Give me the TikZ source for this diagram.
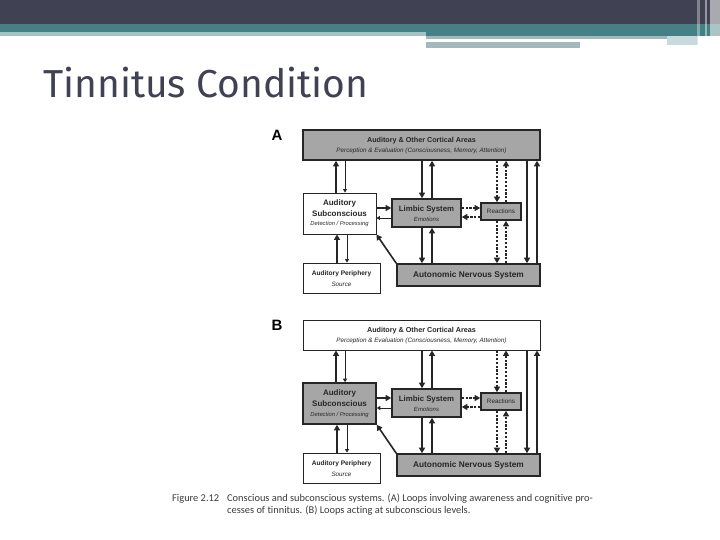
\documentclass[tikz,border=0pt]{standalone}
\usepackage{fontspec}
\setmainfont{Liberation Sans}
\newfontfamily\titlefont{Fira Sans}
\newfontfamily\capfont[Ligatures=NoCommon]{Carlito}
\usetikzlibrary{arrows.meta}
\definecolor{hdark}{HTML}{404254}
\definecolor{hteal}{HTML}{458084}
\definecolor{hlight}{HTML}{A5C2C5}
\definecolor{hgray}{HTML}{A3B8BA}
\definecolor{boxgray}{HTML}{A6A6A6}
\definecolor{ink}{HTML}{262626}
\begin{document}
\begin{tikzpicture}[x=1pt,y=-1pt,
  gbox/.style={draw=ink, line width=1.6pt, fill=boxgray, rectangle, inner sep=0pt},
  wbox/.style={draw=ink, line width=0.9pt, fill=white, rectangle, inner sep=0pt},
  lbl/.style={inner sep=0pt, text=ink},
  arr/.style={draw=ink, line width=1.6pt, -{Triangle[length=5.5pt,width=6pt]}},
  tarr/.style={draw=ink, line width=0.8pt, -{Triangle[length=3.5pt,width=4pt]}},
  darr/.style={arr, dash pattern=on 2.2pt off 1.6pt}
]
\useasboundingbox (0,0) rectangle (720,540);
\fill[white] (0,0) rectangle (720,540);
% header
\fill[hdark] (0,0) rectangle (720,24);
\fill[hteal] (0,24) rectangle (720,32);
\fill[hlight] (0,32) rectangle (426,36);
\fill[hteal] (426,32) rectangle (720,36);
\fill[hgray] (426,36) rectangle (667,39);
\fill[hgray] (426,42) rectangle (580,48);
\fill[hlight!60] (667,36) rectangle (698,45);
\fill[white,opacity=0.35] (697,0) rectangle (700,45);
\fill[white,opacity=0.45] (705,0) rectangle (707,49);
\fill[white,opacity=0.55] (710,0) rectangle (720,45);
% title
\node[anchor=base west, inner sep=0pt, text=hdark, font=\titlefont\fontsize{39}{42}\selectfont] (title) at (43,98) {Tinnitus Condition};
% columns
\coordinate (c1) at (336,0);
\coordinate (c2) at (345,0);
\coordinate (c3) at (422,0);
\coordinate (c4) at (432,0);
\coordinate (c5) at (497,0);
\coordinate (c6) at (506,0);
\coordinate (c7) at (527,0);
\coordinate (c8) at (537,0);
\coordinate (c9) at (337,0);
\coordinate (c10) at (347,0);
\foreach \p/\o/\tf/\af in {A/0/gbox/wbox, B/190/wbox/gbox}{
  \node[anchor=center, inner sep=0pt, font=\bfseries\fontsize{15}{15}\selectfont] (lab\p) at (277,{135+\o}) {\p};
  \node[\tf, minimum width=237pt, minimum height=30pt] (top\p) at (421.5,{145+\o}) {};
  \node[\af, minimum width=73pt, minimum height=41pt] (as\p) at (339.5,{213.5+\o}) {};
  \node[gbox, minimum width=69pt, minimum height=28pt] (lim\p) at (426.5,{213+\o}) {};
  \node[gbox, minimum width=40pt, minimum height=17pt] (rea\p) at (501,{211.5+\o}) {};
  \node[wbox, minimum width=77pt, minimum height=30pt] (per\p) at (341.5,{278+\o}) {};
  \node[gbox, minimum width=143pt, minimum height=22pt] (ans\p) at (468.5,{275+\o}) {};
  % texts
  \node[lbl, font=\bfseries\fontsize{7.2}{8}\selectfont] (topt1\p) at (421.5,{141+\o}) {Auditory \& Other Cortical Areas};
  \node[lbl, font=\itshape\fontsize{6.3}{7}\selectfont] (topt2\p) at (421.5,{151+\o}) {Perception \& Evaluation (Consciousness, Memory, Attention)};
  \node[lbl, font=\bfseries\fontsize{8}{9}\selectfont] (ast1\p) at (339.5,{203+\o}) {Auditory};
  \node[lbl, font=\bfseries\fontsize{8}{9}\selectfont] (ast2\p) at (339.5,{214+\o}) {Subconscious};
  \node[lbl, font=\itshape\fontsize{5.8}{7}\selectfont] (ast3\p) at (339.5,{224.5+\o}) {Detection / Processing};
  \node[lbl, font=\bfseries\fontsize{7.8}{9}\selectfont] (limt1\p) at (426.5,{209+\o}) {Limbic System};
  \node[lbl, font=\itshape\fontsize{6}{7}\selectfont] (limt2\p) at (426.5,{219+\o}) {Emotions};
  \node[lbl, font=\fontsize{6.3}{7}\selectfont] (reat\p) at (501,{211.5+\o}) {Reactions};
  \node[lbl, font=\bfseries\fontsize{6.6}{8}\selectfont] (pert1\p) at (341.5,{274+\o}) {Auditory Periphery};
  \node[lbl, font=\itshape\fontsize{6.3}{7}\selectfont] (pert2\p) at (341.5,{284+\o}) {Source};
  \node[lbl, font=\bfseries\fontsize{8.3}{9}\selectfont] (anst\p) at (468.5,{275+\o}) {Autonomic Nervous System};
  % rows
  \coordinate (r1\p) at (0,{208+\o});
  \coordinate (r2\p) at (0,{218+\o});
  \coordinate (r3\p) at (0,{208+\o});
  \coordinate (r4\p) at (0,{217+\o});
  % top <-> auditory subconscious
  \draw[arr] (as\p.north -| c1) -- (top\p.south -| c1);
  \draw[tarr] (top\p.south -| c2) -- (as\p.north -| c2);
  % top <-> limbic
  \draw[arr] (top\p.south -| c3) -- (lim\p.north -| c3);
  \draw[arr] (lim\p.north -| c4) -- (top\p.south -| c4);
  % limbic <-> ANS
  \draw[arr] (lim\p.south -| c3) -- (ans\p.north -| c3);
  \draw[arr] (ans\p.north -| c4) -- (lim\p.south -| c4);
  % top <-> reactions (dashed)
  \draw[darr] (top\p.south -| c5) -- (rea\p.north -| c5);
  \draw[darr] (rea\p.north -| c6) -- (top\p.south -| c6);
  % reactions <-> ANS (dashed)
  \draw[darr] (rea\p.south -| c5) -- (ans\p.north -| c5);
  \draw[darr] (ans\p.north -| c6) -- (rea\p.south -| c6);
  % top <-> ANS
  \draw[arr] (top\p.south -| c7) -- (ans\p.north -| c7);
  \draw[arr] (ans\p.north -| c8) -- (top\p.south -| c8);
  % AS <-> limbic
  \draw[arr] (as\p.east |- r1\p) -- (lim\p.west |- r1\p);
  \draw[tarr] (lim\p.west |- r2\p) -- (as\p.east |- r2\p);
  % limbic <-> reactions (dashed)
  \draw[darr] (lim\p.east |- r3\p) -- (rea\p.west |- r3\p);
  \draw[darr] (rea\p.west |- r4\p) -- (lim\p.east |- r4\p);
  % periphery <-> AS
  \draw[arr] (per\p.north -| c9) -- (as\p.south -| c9);
  \draw[tarr] (as\p.south -| c10) -- (per\p.north -| c10);
  % ANS -> AS diagonal
  \draw[arr] (ans\p.north west) -- (as\p.south east);
}
% caption
\node[anchor=base west, inner sep=0pt, text=ink!90, font=\capfont\fontsize{10.4}{11}\selectfont] (capfig) at (172,501) {Figure 2.12};
\node[anchor=base west, inner sep=0pt, text=ink!90, font=\capfont\fontsize{10.4}{11}\selectfont] (cap1) at (227,501) {Conscious and subconscious systems. (A) Loops involving awareness and cognitive pro-};
\node[anchor=base west, inner sep=0pt, text=ink!90, font=\capfont\fontsize{10.4}{11}\selectfont] (cap2) at (227,513) {cesses of tinnitus. (B) Loops acting at subconscious levels.};
\end{tikzpicture}
\end{document}
